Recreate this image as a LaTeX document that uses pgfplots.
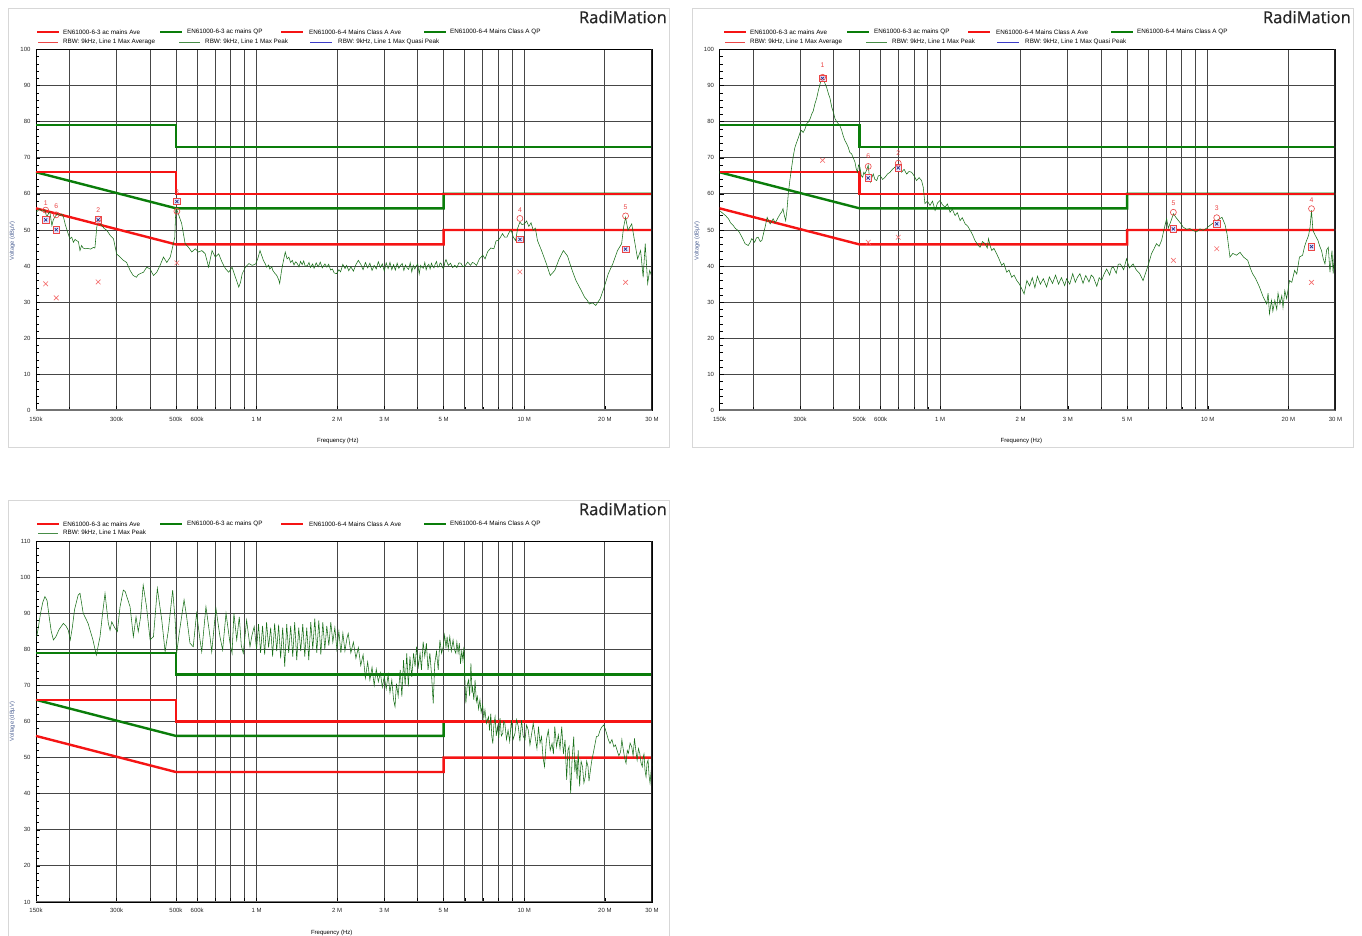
\documentclass[border=0pt]{standalone}
\usepackage{fontspec}
\setmainfont{Liberation Sans}
\newfontfamily\titlefont{Open Sans}[FakeBold=0.7]
\usepackage{pgfplots}
\usepackage{pgfplotstable}
\pgfplotsset{compat=1.18}

\definecolor{limred}{RGB}{245,20,20}
\definecolor{limgreen}{RGB}{10,125,10}
\definecolor{trcol}{RGB}{25,112,25}
\definecolor{mkred}{RGB}{235,70,70}
\definecolor{xred}{RGB}{245,110,110}
\definecolor{mkblue}{RGB}{40,50,140}
\definecolor{gridc}{RGB}{70,70,70}
\definecolor{framec}{RGB}{215,215,215}
\definecolor{ylab}{RGB}{80,100,150}
\definecolor{legblue}{RGB}{60,60,200}

\newcommand{\legf}{\fontsize{6.3}{7}\selectfont}

\pgfplotstableread{
f db
0.1506 55.0
0.153 55.5
0.155 55.8
0.158 55.2
0.162 55.6
0.1645 53.5
0.167 54.6
0.169 55.0
0.172 51.2
0.174 52.8
0.177 53.8
0.181 54.5
0.184 54.0
0.187 54.4
0.190 53.6
0.193 51.5
0.196 49.9
0.199 48.4
0.201 47.6
0.204 48.0
0.207 46.6
0.210 47.4
0.213 47.0
0.216 46.8
0.219 44.3
0.222 45.7
0.225 45.0
0.229 44.8
0.234 44.9
0.240 44.7
0.246 45.2
0.249 45.0
0.253 50.8
0.257 53.5
0.260 51.8
0.264 51.2
0.270 50.4
0.276 49.9
0.284 48.5
0.292 47.6
0.300 43.4
0.309 42.5
0.318 41.6
0.327 41.0
0.337 38.8
0.346 37.4
0.356 36.9
0.361 37.6
0.367 37.9
0.378 38.3
0.389 39.7
0.400 39.2
0.412 37.4
0.424 38.3
0.436 40.2
0.449 42.5
0.462 41.0
0.476 42.5
0.489 46.2
0.495 48.0
0.499 55.4
0.504 55.5
0.510 54.5
0.525 51.8
0.541 46.2
0.557 45.2
0.573 43.9
0.590 44.8
0.607 43.9
0.625 44.3
0.643 43.4
0.662 39.7
0.682 44.3
0.701 42.5
0.722 43.4
0.743 41.1
0.765 39.3
0.787 38.3
0.810 39.7
0.834 36.9
0.858 34.2
0.871 35.5
0.884 37.9
0.909 39.7
0.936 40.7
0.964 40.2
0.992 40.6
1.01 42.0
1.03 44.3
1.05 42.5
1.06 41.6
1.08 40.5
1.09 39.7
1.11 40.3
1.12 39.2
1.14 39.8
1.15 38.8
1.17 38.0
1.19 37.4
1.21 36.2
1.22 35.2
1.24 38.8
1.26 41.5
1.28 43.9
1.30 42.0
1.32 42.5
1.34 41.0
1.36 41.6
1.38 40.3
1.40 41.2
1.42 40.7
1.44 39.8
1.46 41.3
1.48 40.4
1.50 41.4
1.52 39.9
1.55 40.2
1.57 41.0
1.59 39.6
1.62 40.6
1.64 39.4
1.67 40.9
1.70 39.8
1.73 41.1
1.76 39.5
1.80 40.6
1.83 39.7
1.86 40.5
1.89 38.9
1.92 39.2
1.95 38.1
1.99 37.9
2.03 39.0
2.06 38.4
2.10 40.5
2.14 39.3
2.17 40.2
2.21 38.7
2.25 39.8
2.30 38.6
2.35 40.4
2.40 41.6
2.45 40.5
2.50 39.0
2.55 41.0
2.60 39.5
2.65 40.8
2.70 38.8
2.75 40.2
2.80 39.2
2.85 41.2
2.90 39.6
2.95 40.6
3.00 38.6
3.05 40.9
3.10 39.3
3.15 41.0
3.20 39.0
3.25 40.4
3.30 38.9
3.35 40.8
3.40 39.4
3.45 40.2
3.50 40.7
3.55 38.8
3.60 40.3
3.65 39.5
3.70 39.1
3.75 40.9
3.80 38.4
3.85 40.2
3.90 39.2
3.95 40.1
4.00 40.6
4.05 37.8
4.10 40.2
4.15 39.6
4.20 39.4
4.25 41.0
4.30 39.0
4.35 40.1
4.40 40.5
4.45 39.2
4.50 40.8
4.55 39.9
4.60 39.5
4.65 40.6
4.70 41.3
4.75 39.7
4.80 39.8
4.85 40.9
4.90 40.6
4.95 39.5
5.00 39.4
5.05 41.0
5.10 41.8
5.20 40.2
5.30 40.8
5.40 39.6
5.50 40.2
5.60 39.6
5.70 40.9
5.80 40.8
5.90 39.8
6.00 40.0
6.15 41.1
6.30 40.2
6.40 41.0
6.50 40.8
6.63 40.2
6.80 42.0
7.00 43.0
7.14 42.0
7.30 44.0
7.50 45.0
7.70 44.8
7.85 47.0
7.99 47.1
8.15 48.0
8.29 49.0
8.45 48.0
8.61 48.0
8.80 49.5
8.94 49.9
9.10 48.0
9.28 47.1
9.45 50.5
9.63 52.2
9.80 51.5
10.0 51.7
10.2 52.5
10.4 51.0
10.6 52.0
10.8 49.9
11.0 50.5
11.2 47.1
11.6 44.3
12.1 40.6
12.5 37.4
13.0 38.8
13.5 42.0
14.0 44.3
14.5 42.8
15.1 38.8
15.6 36.0
16.2 33.7
16.8 31.4
17.2 30.5
17.5 29.5
18.0 29.8
18.5 29.1
18.9 30.2
19.2 30.9
19.9 34.2
20.6 37.9
21.4 40.6
22.3 44.3
23.1 46.2
23.5 50.8
23.9 53.5
24.4 49.9
25.2 51.7
25.8 47.1
26.5 42.0
27.2 44.3
27.8 36.9
28.3 46.2
28.9 35.2
29.4 38.8
30.0 37.0
}\traceA

\pgfplotstableread{
f db
0.150 55.4
0.155 54.5
0.158 54.0
0.162 53.1
0.165 52.0
0.169 51.2
0.172 50.4
0.176 49.9
0.179 49.0
0.182 48.0
0.187 46.2
0.192 45.7
0.195 46.5
0.198 47.6
0.203 46.6
0.206 47.8
0.209 48.0
0.213 46.8
0.216 47.1
0.219 49.0
0.222 50.8
0.226 53.5
0.229 52.5
0.232 51.7
0.235 52.4
0.238 53.1
0.242 52.0
0.245 52.6
0.249 53.6
0.253 54.5
0.256 55.0
0.259 55.9
0.262 54.0
0.265 52.6
0.268 55.5
0.271 60.0
0.275 64.0
0.279 67.4
0.283 70.5
0.287 72.9
0.292 74.5
0.296 75.7
0.300 77.0
0.304 77.6
0.308 77.0
0.313 78.0
0.318 79.5
0.322 79.9
0.327 80.8
0.332 82.2
0.336 83.0
0.341 85.0
0.346 86.5
0.351 88.6
0.355 90.0
0.359 91.4
0.364 92.3
0.368 91.5
0.372 90.5
0.377 89.5
0.383 87.7
0.388 86.5
0.394 84.0
0.400 82.5
0.405 80.8
0.411 80.0
0.417 79.4
0.423 78.8
0.429 77.6
0.435 76.0
0.441 74.8
0.447 74.0
0.454 72.9
0.460 71.5
0.467 71.1
0.474 70.0
0.481 68.8
0.486 67.0
0.491 66.0
0.496 68.0
0.502 67.4
0.508 65.0
0.514 64.6
0.519 66.0
0.524 65.5
0.531 66.5
0.539 67.9
0.544 65.0
0.550 63.3
0.556 64.5
0.563 65.5
0.571 64.0
0.580 63.7
0.588 65.0
0.597 65.1
0.610 64.0
0.623 64.6
0.636 65.5
0.650 66.0
0.664 66.8
0.678 67.4
0.688 66.5
0.698 67.9
0.708 66.8
0.718 66.0
0.734 66.8
0.750 65.5
0.766 66.2
0.783 66.0
0.800 65.0
0.817 63.7
0.835 64.5
0.853 63.7
0.865 61.9
0.878 57.3
0.897 58.0
0.917 56.8
0.937 58.0
0.958 55.4
0.978 57.5
1.00 58.2
1.02 57.0
1.043 56.3
1.065 57.2
1.09 54.9
1.11 55.8
1.138 54.0
1.16 54.8
1.188 52.6
1.21 53.4
1.241 51.7
1.27 51.0
1.296 49.9
1.32 48.8
1.35 47.1
1.38 46.0
1.41 45.2
1.44 46.8
1.474 46.2
1.50 45.0
1.517 47.6
1.54 45.5
1.56 44.3
1.59 44.9
1.627 43.4
1.66 42.0
1.699 40.2
1.73 40.8
1.774 38.3
1.81 38.9
1.852 36.9
1.89 37.5
1.934 36.0
1.98 35.0
2.02 33.7
2.06 32.3
2.11 36.0
2.16 34.5
2.21 36.8
2.26 34.0
2.31 37.2
2.37 35.0
2.43 36.5
2.50 34.2
2.56 37.0
2.63 35.2
2.70 37.5
2.77 35.0
2.84 36.8
2.92 34.6
2.97 36.5
3.05 35.0
3.13 37.9
3.20 35.5
3.26 36.9
3.33 37.9
3.42 35.2
3.50 37.4
3.60 35.6
3.67 37.5
3.74 36.9
3.85 34.4
3.93 36.8
4.01 36.0
4.10 37.8
4.19 39.2
4.30 37.5
4.37 39.5
4.44 39.7
4.55 38.0
4.63 40.5
4.71 40.6
4.85 39.0
4.97 42.0
5.10 39.5
5.26 40.6
5.40 39.0
5.57 37.9
5.73 36.0
5.90 38.8
6.03 41.0
6.16 43.4
6.30 44.8
6.43 46.2
6.58 45.5
6.72 47.1
6.88 50.5
7.02 53.1
7.12 50.5
7.22 51.7
7.33 53.0
7.44 54.5
7.60 53.5
7.77 52.6
7.93 51.8
8.09 50.8
8.33 50.2
8.57 50.4
8.83 49.8
9.09 49.5
9.35 50.3
9.61 49.9
9.90 50.5
10.2 51.3
10.5 52.0
10.8 52.6
11.0 53.0
11.3 53.5
11.6 51.5
11.8 48.9
12.1 42.5
12.4 43.5
12.8 43.0
13.2 43.8
13.6 42.5
14.1 41.6
14.4 39.5
14.7 37.9
15.1 36.5
15.6 34.2
16.1 31.5
16.6 29.5
16.8 32.5
17.0 26.8
17.3 30.5
17.5 27.5
17.8 30.5
18.1 28.0
18.3 32.5
18.6 29.5
18.9 31.8
19.1 28.5
19.4 33.2
19.7 31.0
20.2 36.0
20.6 35.5
21.1 38.8
21.5 37.8
22.0 42.5
22.6 43.0
23.0 45.5
23.4 47.1
23.8 48.5
24.1 50.8
24.4 55.4
24.7 49.9
25.2 48.5
25.8 47.1
26.2 45.5
26.6 44.3
27.0 42.0
27.4 40.6
27.8 44.5
28.2 45.2
28.6 38.3
29.1 44.3
29.4 37.9
29.7 43.5
30.0 39.0
}\traceB

\pgfplotstableread{
f db
0.1509 83.5
0.153 86.0
0.156 90.0
0.159 93.0
0.162 94.6
0.165 93.5
0.168 89.0
0.171 85.0
0.1743 82.6
0.178 83.5
0.183 85.5
0.1899 87.2
0.194 86.5
0.198 85.3
0.2014 82.6
0.205 86.0
0.209 91.0
0.2155 95.0
0.219 95.5
0.2251 90.0
0.2347 87.2
0.2448 82.6
0.2520 78.4
0.2602 83.5
0.266 90.0
0.2716 95.5
0.2794 87.2
0.2836 85.3
0.2878 87.6
0.2961 85.8
0.302 84.9
0.3091 91.8
0.3179 96.4
0.323 96.0
0.3369 91.8
0.3466 83.5
0.3546 89.0
0.3615 84.9
0.3689 89.0
0.3772 97.8
0.3882 91.8
0.4003 82.6
0.412 83.5
0.426 96.9
0.4425 88.1
0.4554 79.3
0.4683 85.3
0.486 96.4
0.4964 88.1
0.503 78.9
0.514 84.4
0.536 93.7
0.548 89.0
0.564 81.7
0.580 80.7
0.597 90.0
0.615 82.6
0.624 79.3
0.647 91.8
0.670 83.5
0.680 79.3
0.705 91.4
0.730 83.5
0.747 79.8
0.769 90.0
0.796 81.7
0.810 78.9
0.823 90.0
0.843 82.6
0.862 89.0
0.877 81.0
0.892 78.9
0.918 88.1
0.945 80.7
0.962 84.0
0.980 86.3
1.000 80.0
1.017 87.0
1.035 79.0
1.053 86.5
1.072 78.5
1.090 87.5
1.109 80.5
1.129 86.0
1.148 78.0
1.168 87.2
1.189 79.5
1.209 86.8
1.230 77.5
1.252 86.0
1.274 75.2
1.296 87.0
1.318 79.0
1.341 86.5
1.365 78.0
1.388 87.5
1.413 77.0
1.437 86.0
1.462 79.5
1.488 87.0
1.514 78.0
1.540 86.0
1.567 77.0
1.594 87.5
1.622 80.0
1.650 88.5
1.679 79.0
1.708 88.0
1.738 78.5
1.768 87.5
1.799 80.0
1.830 86.5
1.862 81.0
1.894 87.5
1.927 82.0
1.961 86.0
1.995 80.0
2.030 85.0
2.065 79.0
2.101 84.5
2.138 79.5
2.175 83.0
2.20 84.4
2.25 79.0
2.30 82.0
2.35 77.5
2.40 80.5
2.45 75.5
2.50 78.5
2.55 72.0
2.60 76.5
2.65 71.5
2.70 75.0
2.75 70.0
2.80 74.5
2.85 71.0
2.90 73.5
2.95 69.5
3.00 72.5
3.05 69.0
3.10 73.0
3.15 68.0
3.20 71.5
3.25 66.0
3.29 64.1
3.33 70.5
3.38 67.0
3.44 74.3
3.49 66.9
3.54 77.0
3.59 70.0
3.64 78.9
3.69 69.7
3.74 78.0
3.80 72.4
3.86 78.9
3.91 75.2
3.96 80.7
4.02 75.2
4.08 78.9
4.13 74.3
4.19 82.1
4.25 78.0
4.31 81.7
4.37 74.3
4.44 78.9
4.50 73.3
4.57 65.0
4.63 76.1
4.70 79.4
4.77 74.3
4.84 82.6
4.91 78.9
4.98 80.7
5.04 84.0
5.10 80.5
5.15 83.5
5.20 80.0
5.27 83.5
5.34 79.5
5.42 82.6
5.48 80.0
5.55 78.9
5.60 82.0
5.66 79.0
5.72 81.7
5.78 76.0
5.84 79.5
5.90 77.0
5.95 80.7
6.00 72.0
6.05 65.0
6.12 70.0
6.19 71.5
6.25 67.0
6.32 76.1
6.38 68.0
6.41 69.7
6.48 66.0
6.55 71.5
6.62 65.5
6.68 66.9
6.75 63.5
6.83 66.0
6.90 62.5
6.99 64.6
7.06 61.0
7.13 63.2
7.22 59.5
7.35 61.3
7.42 57.5
7.50 62.2
7.56 56.0
7.63 53.9
7.70 59.0
7.78 61.3
7.86 56.0
7.94 58.6
8.03 55.5
8.12 60.9
8.21 56.0
8.31 56.7
8.38 60.0
8.46 59.5
8.58 55.0
8.70 57.6
8.82 54.5
8.95 60.4
9.08 55.0
9.23 56.7
9.36 60.5
9.50 58.6
9.63 54.5
9.77 60.4
9.90 56.0
10.06 54.9
10.20 59.0
10.35 57.6
10.50 53.5
10.66 56.7
10.80 59.5
10.98 55.8
11.15 52.5
11.30 58.6
11.45 54.0
11.60 55.8
11.75 50.0
11.90 47.5
12.10 55.0
12.30 57.6
12.50 52.0
12.70 53.9
12.85 51.0
13.00 58.6
13.20 53.0
13.40 56.3
13.60 52.5
13.80 58.6
14.00 51.0
14.20 54.9
14.40 43.8
14.55 52.0
14.70 53.0
14.90 40.1
15.10 50.0
15.30 55.8
15.45 46.0
15.60 49.3
15.75 44.0
15.90 52.1
16.10 42.0
16.30 49.0
16.50 47.5
16.70 43.0
16.90 44.7
17.10 49.0
17.30 47.5
17.45 43.5
17.60 45.6
17.85 49.0
18.10 51.2
18.35 53.5
18.60 55.8
18.90 56.0
19.20 57.6
19.50 58.5
19.80 59.0
20.05 58.0
20.30 56.7
20.60 55.0
20.90 53.9
21.25 55.0
21.60 53.0
21.90 53.5
22.20 52.1
22.55 50.5
22.90 51.6
23.15 55.0
23.40 52.5
23.70 50.0
24.00 48.4
24.25 52.0
24.50 51.2
24.85 54.0
25.20 53.0
25.50 50.5
25.80 55.3
26.10 52.0
26.40 49.3
26.70 52.5
27.00 51.2
27.30 48.5
27.60 47.5
27.80 50.0
28.00 51.0
28.25 46.5
28.50 44.7
28.75 48.5
29.00 49.3
29.25 45.0
29.50 42.9
29.75 46.0
30.00 48.4
}\traceC

\newcommand{\limitlines}{%
\addplot[limred, line width=2.4pt] coordinates {(0.15,56) (0.5,46) (5,46) (5,50) (30,50)};
\addplot[limgreen, line width=2.4pt] coordinates {(0.15,66) (0.5,56) (5,56) (5,60) (30,60)};
\addplot[limred, line width=2.4pt] coordinates {(0.15,66) (0.5,66) (0.5,60) (30,60)};
\addplot[limgreen, line width=2.4pt] coordinates {(0.15,79) (0.5,79) (0.5,73) (30,73)};
}
\newcommand{\frameextra}{%
\draw[black!55, line width=2pt] (rel axis cs:0,0) -- (rel axis cs:1,0);
\draw[black!85, line width=2.2pt] (rel axis cs:1,0) -- (rel axis cs:1,1);
}
\newcommand{\legendrowone}{%
\draw[limred, line width=2.4pt] (37,0) -- (59,0);
\node[anchor=west, font=\legf, inner sep=0pt] at (63,0) {EN61000-6-3 ac mains Ave};
\draw[limgreen, line width=2.4pt] (160,0) -- (182,0);
\node[anchor=west, font=\legf, inner sep=0pt] at (187,0) {EN61000-6-3 ac mains QP};
\draw[limred, line width=2.4pt] (281,0) -- (303,0);
\node[anchor=west, font=\legf, inner sep=0pt] at (309,0) {EN61000-6-4  Mains Class A Ave};
\draw[limgreen, line width=2.4pt] (424,0) -- (446,0);
\node[anchor=west, font=\legf, inner sep=0pt] at (450,0) {EN61000-6-4  Mains Class A QP};
}
\newcommand{\legendrowtwo}{%
\draw[mkred, line width=0.8pt] (38,0) -- (58,0);
\node[anchor=west, font=\legf, inner sep=0pt] at (63,0) {RBW: 9kHz, Line 1 Max Average};
\draw[trcol!80, line width=0.8pt] (179,0) -- (200,0);
\node[anchor=west, font=\legf, inner sep=0pt] at (205,0) {RBW: 9kHz, Line 1 Max Peak};
\draw[legblue, line width=0.8pt] (310,0) -- (332,0);
\node[anchor=west, font=\legf, inner sep=0pt] at (338,0) {RBW: 9kHz, Line 1 Max Quasi Peak};
}

\begin{document}
\begin{tikzpicture}
\path[use as bounding box, fill=white] (0pt,0pt) rectangle (1362pt,936pt);
\draw[framec, line width=0.8pt] (8pt,489pt) rectangle (669pt,928pt);
\draw[framec, line width=0.8pt] (692pt,489pt) rectangle (1353pt,928pt);
\draw[framec, line width=0.8pt] (8pt,-5pt) rectangle (669pt,436pt);

\node[anchor=east, font=\titlefont\fontsize{16.5}{17}\selectfont, text=black!85, inner sep=0pt] at (667pt,919pt) {RadiMation};
\node[anchor=east, font=\titlefont\fontsize{16.5}{17}\selectfont, text=black!85, inner sep=0pt] at (1351pt,919pt) {RadiMation};
\node[anchor=east, font=\titlefont\fontsize{16.5}{17}\selectfont, text=black!85, inner sep=0pt] at (667pt,427pt) {RadiMation};

\begin{scope}[x=1pt, y=1pt, shift={(0,904)}]\legendrowone\end{scope}
\begin{scope}[x=1pt, y=1pt, shift={(0,894)}]\legendrowtwo\end{scope}
\begin{scope}[x=1pt, y=1pt, shift={(687,904)}]\legendrowone\end{scope}
\begin{scope}[x=1pt, y=1pt, shift={(687,894)}]\legendrowtwo\end{scope}
\begin{scope}[x=1pt, y=1pt, shift={(0,412)}]\legendrowone\end{scope}
\begin{scope}[x=1pt, y=1pt, shift={(0,403)}]
\draw[trcol!80, line width=0.8pt] (38,0) -- (58,0);
\node[anchor=west, font=\legf, inner sep=0pt] at (63,0) {RBW: 9kHz, Line 1 Max Peak};
\end{scope}

% ---------- panel 1 ----------
\begin{axis}[at={(36pt,525.5pt)}, anchor=south west,
  scale only axis, width=616pt, height=361pt,
  xmode=log, xmin=0.15, xmax=30, ymin=0, ymax=100, ytick={0,10,...,100},
  xtick={0.15,0.3,0.5,0.6,1,2,3,5,10,20,30},
  xticklabels={150k,300k,500k,600k,1 M,2 M,3 M,5 M,10 M,20 M,30 M},
  minor xtick={0.2,0.4,0.7,0.8,0.9,4,6,7,8,9},
  xmajorgrids, xminorgrids, ymajorgrids,
  major grid style={gridc, line width=0.8pt},
  minor grid style={gridc, line width=0.8pt},
  axis line style={black, line width=0.6pt},
  tick align=inside, xtick pos=bottom, ytick pos=left,
  major tick length=4pt, minor tick length=3.5pt,
  minor y tick num=4,
  tick style={black, line width=0.5pt},
  ticklabel style={font=\fontsize{6}{7}\selectfont, text=black!85},
  /pgf/number format/assume math mode=true,
  xticklabel style={yshift=-3pt},
  yticklabel style={xshift=-2pt},
  xlabel={Frequency (Hz)}, ylabel={Voltage (dBµV)},
  xlabel style={font=\fontsize{6}{7}\selectfont, at={(axis description cs:0.49,0)}, anchor=center, yshift=-30.5pt},
  ylabel style={font=\fontsize{5.8}{7}\selectfont, text=ylab, at={(axis description cs:-0.0385,0.47)}, anchor=center},
  every node near coord/.append style={anchor=center, font=\fontsize{6.8}{7}\selectfont, text=mkred, inner sep=0pt}]
\addplot[only marks, mark=none, nodes near coords, point meta=explicit symbolic] coordinates {(0.163,57.4) [1] (0.1786,56.6) [6] (0.256,55.4) [2] (0.504,60.4) [3] (9.63,55.6) [4] (23.9,56.4) [5]};
\limitlines
\addplot[trcol, line width=0.55pt] table {\traceA};
\addplot[only marks, mark=square*, mark size=3.3pt, mark options={draw=mkred, fill=blue!10, line width=0.6pt}] coordinates {(0.163,52.8) (0.1786,50.1) (0.256,52.8) (0.504,57.9) (9.63,47.4) (23.9,44.7)};
\addplot[only marks, mark=x, mark size=2.2pt, mark options={draw=mkblue, line width=0.7pt}] coordinates {(0.163,52.8) (0.1786,50.1) (0.256,52.8) (0.504,57.9) (9.63,47.4) (23.9,44.7)};
\addplot[only marks, mark=o, mark size=3pt, mark options={draw=mkred, line width=0.6pt}] coordinates {(0.163,55.5) (0.1786,54.2) (0.256,53.0) (0.504,55.2) (9.63,53.2) (23.9,53.9)};
\addplot[only marks, mark=x, mark size=3.3pt, mark options={draw=xred, line width=0.6pt}] coordinates {(0.163,35.1) (0.1786,31.2) (0.256,35.6) (0.504,40.9) (9.63,38.4) (23.9,35.5)};
\frameextra
\end{axis}

% ---------- panel 2 ----------
\begin{axis}[at={(719.5pt,525.5pt)}, anchor=south west,
  scale only axis, width=616pt, height=361pt,
  xmode=log, xmin=0.15, xmax=30, ymin=0, ymax=100, ytick={0,10,...,100},
  xtick={0.15,0.3,0.5,0.6,1,2,3,5,10,20,30},
  xticklabels={150k,300k,500k,600k,1 M,2 M,3 M,5 M,10 M,20 M,30 M},
  minor xtick={0.2,0.4,0.7,0.8,0.9,4,6,7,8,9},
  xmajorgrids, xminorgrids, ymajorgrids,
  major grid style={gridc, line width=0.8pt},
  minor grid style={gridc, line width=0.8pt},
  axis line style={black, line width=0.6pt},
  tick align=inside, xtick pos=bottom, ytick pos=left,
  major tick length=4pt, minor tick length=3.5pt,
  minor y tick num=4,
  tick style={black, line width=0.5pt},
  ticklabel style={font=\fontsize{6}{7}\selectfont, text=black!85},
  /pgf/number format/assume math mode=true,
  xticklabel style={yshift=-3pt},
  yticklabel style={xshift=-2pt},
  xlabel={Frequency (Hz)}, ylabel={Voltage (dBµV)},
  xlabel style={font=\fontsize{6}{7}\selectfont, at={(axis description cs:0.49,0)}, anchor=center, yshift=-30.5pt},
  ylabel style={font=\fontsize{5.8}{7}\selectfont, text=ylab, at={(axis description cs:-0.0365,0.47)}, anchor=center},
  every node near coord/.append style={anchor=center, font=\fontsize{6.8}{7}\selectfont, text=mkred, inner sep=0pt}]
\addplot[only marks, mark=none, nodes near coords, point meta=explicit symbolic] coordinates {(0.364,95.6) [1] (0.539,70.4) [6] (0.698,71.3) [2] (7.44,57.5) [5] (10.8,56.0) [3] (24.4,58.4) [4]};
\limitlines
\addplot[trcol, line width=0.55pt] table {\traceB};
\addplot[only marks, mark=square*, mark size=3.3pt, mark options={draw=mkred, fill=blue!10, line width=0.6pt}] coordinates {(0.364,92.0) (0.539,64.4) (0.698,67.2) (7.44,50.3) (10.8,51.7) (24.4,45.4)};
\addplot[only marks, mark=x, mark size=2.2pt, mark options={draw=mkblue, line width=0.7pt}] coordinates {(0.364,92.0) (0.539,64.4) (0.698,67.2) (7.44,50.3) (10.8,51.7) (24.4,45.4)};
\addplot[only marks, mark=o, mark size=3pt, mark options={draw=mkred, line width=0.6pt}] coordinates {(0.364,92.3) (0.539,67.6) (0.698,68.5) (7.44,54.9) (10.8,53.4) (24.4,55.9)};
\addplot[only marks, mark=x, mark size=3.3pt, mark options={draw=xred, line width=0.6pt}] coordinates {(0.364,69.3) (0.539,46.6) (0.698,48.0) (7.44,41.6) (10.8,44.8) (24.4,35.5)};
\frameextra
\end{axis}

% ---------- panel 3 ----------
\begin{axis}[at={(36pt,34pt)}, anchor=south west,
  scale only axis, width=616pt, height=361pt,
  xmode=log, xmin=0.15, xmax=30, ymin=10, ymax=110, ytick={10,20,...,110},
  xtick={0.15,0.3,0.5,0.6,1,2,3,5,10,20,30},
  xticklabels={150k,300k,500k,600k,1 M,2 M,3 M,5 M,10 M,20 M,30 M},
  minor xtick={0.2,0.4,0.7,0.8,0.9,4,6,7,8,9},
  xmajorgrids, xminorgrids, ymajorgrids,
  major grid style={gridc, line width=0.8pt},
  minor grid style={gridc, line width=0.8pt},
  axis line style={black, line width=0.6pt},
  tick align=inside, xtick pos=bottom, ytick pos=left,
  major tick length=4pt, minor tick length=3.5pt,
  minor y tick num=4,
  tick style={black, line width=0.5pt},
  ticklabel style={font=\fontsize{6}{7}\selectfont, text=black!85},
  /pgf/number format/assume math mode=true,
  xticklabel style={yshift=-3pt},
  yticklabel style={xshift=-2pt},
  xlabel={Frequency (Hz)}, ylabel={Voltage (dBµV)},
  xlabel style={font=\fontsize{6}{7}\selectfont, at={(axis description cs:0.48,0)}, anchor=center, yshift=-30.5pt},
  ylabel style={font=\fontsize{5.8}{7}\selectfont, text=ylab, at={(axis description cs:-0.0385,0.50)}, anchor=center}]
\limitlines
\addplot[trcol, line width=0.55pt] table {\traceC};
\frameextra
\end{axis}
\end{tikzpicture}
\end{document}
